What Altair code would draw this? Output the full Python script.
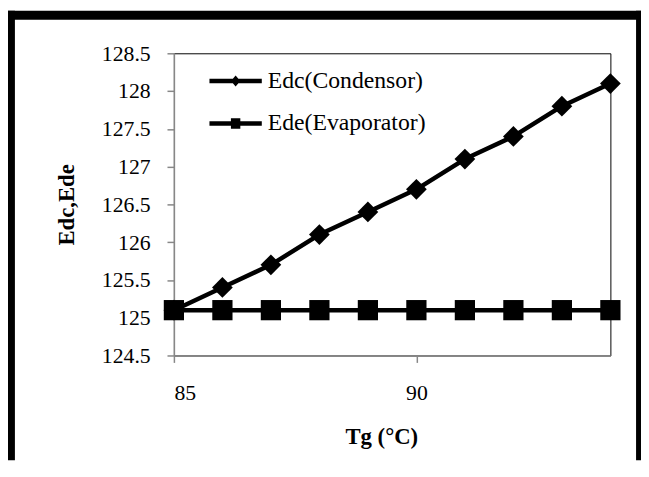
import altair as alt
import pandas as pd

# ---- data ----
tg = [85, 86, 87, 88, 89, 90, 91, 92, 93, 94]
edc = [125.1, 125.4, 125.7, 126.1, 126.4, 126.7, 127.1, 127.4, 127.8, 128.1]
ede = [125.1, 125.1, 125.1, 125.1, 125.1, 125.1, 125.1, 125.1, 125.1, 125.1]
series_names = ["Edc(Condensor)", "Ede(Evaporator)"]
y_ticks = [124.5, 125, 125.5, 126, 126.5, 127, 127.5, 128, 128.5]
x_ticks = [85, 90]

df = pd.DataFrame({
    "Tg": tg + tg,
    "E": edc + ede,
    "series": [series_names[0]] * len(tg) + [series_names[1]] * len(tg),
})

FONT = "Liberation Serif"
GRAY = "#878787"

x = alt.X(
    "Tg:Q",
    scale=alt.Scale(domain=[85, 94], nice=False, zero=False),
    axis=alt.Axis(
        values=x_ticks, title="Tg (°C)", labelFont=FONT, labelFontSize=22,
        labelPadding=21, labelColor="black",
        tickSize=7, titleFont=FONT, titleFontSize=23, titleFontWeight="bold",
        titleX=210, titleY=89, titleBaseline="alphabetic", titleAlign="center",
    ),
)
y = alt.Y(
    "E:Q",
    scale=alt.Scale(domain=[124.5, 128.5], nice=False, zero=False),
    axis=alt.Axis(
        values=y_ticks, format=".1~f", title="Edc,Ede", labelFont=FONT,
        labelFontSize=22, labelColor="black",
        labelPadding=17, tickSize=7, titleFont=FONT, titleFontSize=23,
        titleFontWeight="bold",
        titleAngle=270, titleX=-102, titleY=153, titleBaseline="alphabetic",
        titleAlign="center",
    ),
)

base = alt.Chart(df).encode(x=x, y=y)

lines = base.mark_line(color="black", strokeWidth=4.5, strokeJoin="round").encode(
    detail="series:N"
)
diamonds = base.transform_filter(alt.datum.series == series_names[0]).mark_point(
    shape="diamond", filled=True, size=441, color="black", opacity=1
)
squares = base.transform_filter(alt.datum.series == series_names[1]).mark_point(
    shape="square", filled=True, size=420, color="black", opacity=1
)

sym_edc = "M-1,-0.085L1,-0.085L1,0.085L-1,0.085Z M0,-0.21L0.18,0L0,0.21L-0.18,0Z"
sym_ede = "M-1,-0.085L1,-0.085L1,0.085L-1,0.085Z M-0.18,-0.2L0.18,-0.2L0.18,0.2L-0.18,0.2Z"

legend_layer = base.mark_point(filled=True, opacity=0, color="black").encode(
    shape=alt.Shape(
        "series:N",
        scale=alt.Scale(domain=series_names, range=[sym_edc, sym_ede]),
        legend=alt.Legend(
            title=None, orient="none", legendX=36, legendY=1.5, padding=0,
            symbolSize=2809, symbolFillColor="black", symbolStrokeColor="black",
            symbolStrokeWidth=0, symbolOpacity=1, rowPadding=4,
            labelFont=FONT, labelFontSize=24, labelColor="black",
            labelOffset=6, labelBaseline="middle", labelLimit=400,
        ),
    )
)

frame_src = alt.Chart(alt.Data(values=[{}]))
frame_left = frame_src.mark_rect(color="black").encode(
    x=alt.value(-168), x2=alt.value(-161), y=alt.value(-43), y2=alt.value(412)
)
frame_top = frame_src.mark_rect(color="black").encode(
    x=alt.value(-168), x2=alt.value(473), y=alt.value(-43), y2=alt.value(-34)
)
frame_right = frame_src.mark_rect(color="black").encode(
    x=alt.value(468), x2=alt.value(473), y=alt.value(-43), y2=alt.value(412)
)

chart = (
    alt.layer(lines, diamonds, squares, legend_layer, frame_left, frame_top, frame_right)
    .properties(
        width=442, height=306,
        autosize=alt.AutoSizeParams(type="none"),
        padding={"left": 168, "top": 43, "right": 31, "bottom": 106},
        background="white",
    )
    .configure_view(stroke="black", strokeWidth=1)
    .configure_axis(
        labelFont=FONT, titleFont=FONT, labelColor="black", titleColor="black",
        domainColor=GRAY, tickColor=GRAY, domainWidth=1.5, tickWidth=1.5, grid=False,
    )
)

chart.save("out.html", embed_options={"renderer": "svg", "actions": False})
